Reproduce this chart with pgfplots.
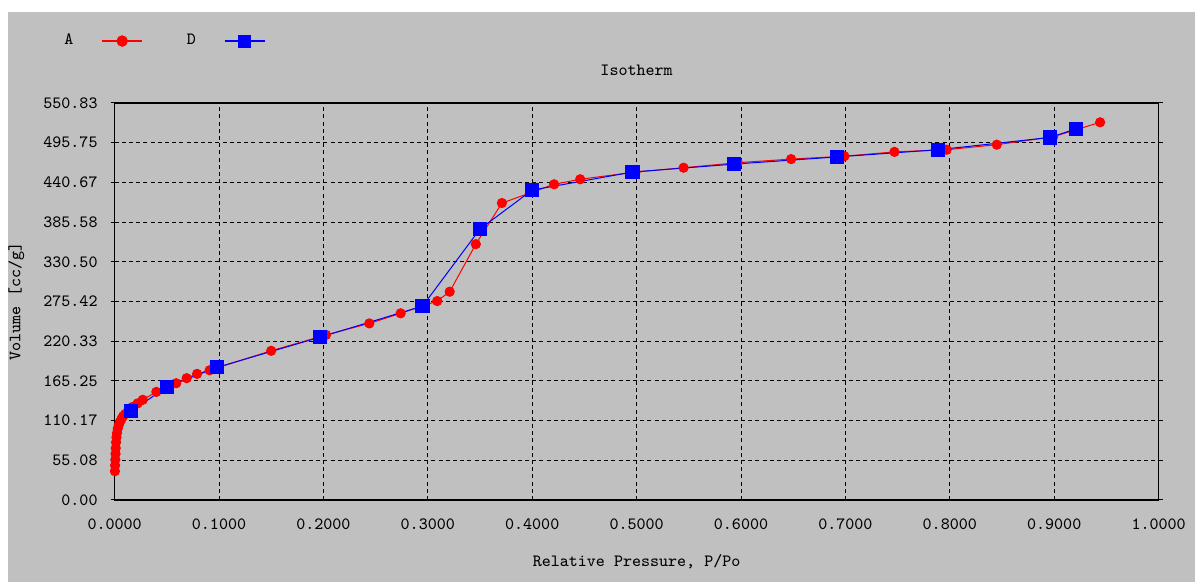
\documentclass[border=0pt]{standalone}
\usepackage{pgfplots}
\pgfplotsset{compat=1.18}
\usepackage{fontspec}
\setmonofont{Latin Modern Mono}
\definecolor{bg}{RGB}{192,192,192}
\begin{document}
\begin{tikzpicture}
\fill[white] (0,0) rectangle (597.5pt,291pt);
\fill[bg] (4pt,0) rectangle (597.5pt,285pt);
\begin{axis}[
  at={(57.3pt,41pt)}, anchor=south west,
  scale only axis, width=522pt, height=198.5pt,
  xmin=0, xmax=1, ymin=0, ymax=550.83,
  axis line style={black, line width=0.8pt},
  font=\ttfamily\fontsize{8.6}{10}\selectfont,
  xtick={0,0.1,...,1.0},
  xticklabels={0.0000,0.1000,0.2000,0.3000,0.4000,0.5000,0.6000,0.7000,0.8000,0.9000,1.0000},
  ytick={0,55.083,110.166,165.249,220.332,275.415,330.498,385.581,440.664,495.747,550.83},
  yticklabels={0.00,55.08,110.17,165.25,220.33,275.42,330.50,385.58,440.67,495.75,550.83},
  xticklabel style={anchor=center, yshift=-10pt},
  yticklabel style={anchor=east, xshift=-3pt},
  xtick style={draw=none},
  ytick style={black, line width=0.5pt},
  tick align=outside, major tick length=2pt,
  grid=major,
  major grid style={black, line width=0.5pt, dash pattern=on 2pt off 1.6pt},
  title={Isotherm},
  title style={at={(axis description cs:0.5,1.053)}, anchor=center},
  xlabel={Relative Pressure, P/Po},
  xlabel style={at={(axis description cs:0.5,-0.156)}, anchor=center},
  ylabel={Volume [cc/g]},
  ylabel style={at={(axis description cs:-0.094,0.5)}, anchor=center},
  legend plot pos=right,
  legend columns=2,
  legend style={at={(axis description cs:-0.058,1.156)}, anchor=west,
    draw=none, fill=none, font=\ttfamily\fontsize{8.6}{10}\selectfont,
    /tikz/every odd column/.append style={column sep=12pt},
    /tikz/every even column/.append style={column sep=20pt}},
]
\addplot[red, line width=0.5pt, mark=*, mark size=2.3pt, mark options={fill=red, draw=red},
  legend image code/.code={\draw[red, line width=0.7pt] (0pt,0pt) -- (20pt,0pt);
    \fill[red] (10pt,0pt) circle (2.6pt);}] coordinates {
(0.0003,40)(0.0005,48)(0.0007,56)(0.0009,64)(0.0011,72)(0.0014,80)(0.0018,87)
(0.0023,93)(0.003,99)(0.004,104)(0.005,108)(0.0065,112)(0.008,116)(0.010,119)
(0.013,124)(0.017,129)(0.022,134)(0.027,139)(0.040,150)(0.059,162)(0.069,169)
(0.079,175)(0.091,180)(0.150,207)(0.2025,229)(0.244,245)(0.274,259)(0.309,276)
(0.321,289)(0.346,355)(0.371,412)(0.421,438)(0.446,445)(0.499,455)(0.545,461)
(0.597,468)(0.648,473)(0.699,477)(0.747,483)(0.797,486)(0.845,493)(0.899,504)
(0.944,524)
};
\addlegendentry{A}
\addplot[blue, line width=0.5pt, mark=square*, mark size=3.3pt, mark options={fill=blue, draw=blue},
  legend image code/.code={\draw[blue, line width=0.7pt] (0pt,0pt) -- (20pt,0pt);
    \fill[blue] (7pt,-3pt) rectangle (13pt,3pt);}] coordinates {
(0.016,123)(0.050,157)(0.098,184)(0.197,226)(0.295,269)(0.350,376)(0.400,430)
(0.496,455)(0.593,466)(0.692,476)(0.789,486)(0.896,503)(0.921,515)
};
\addlegendentry{D}
\end{axis}
\end{tikzpicture}
\end{document}
